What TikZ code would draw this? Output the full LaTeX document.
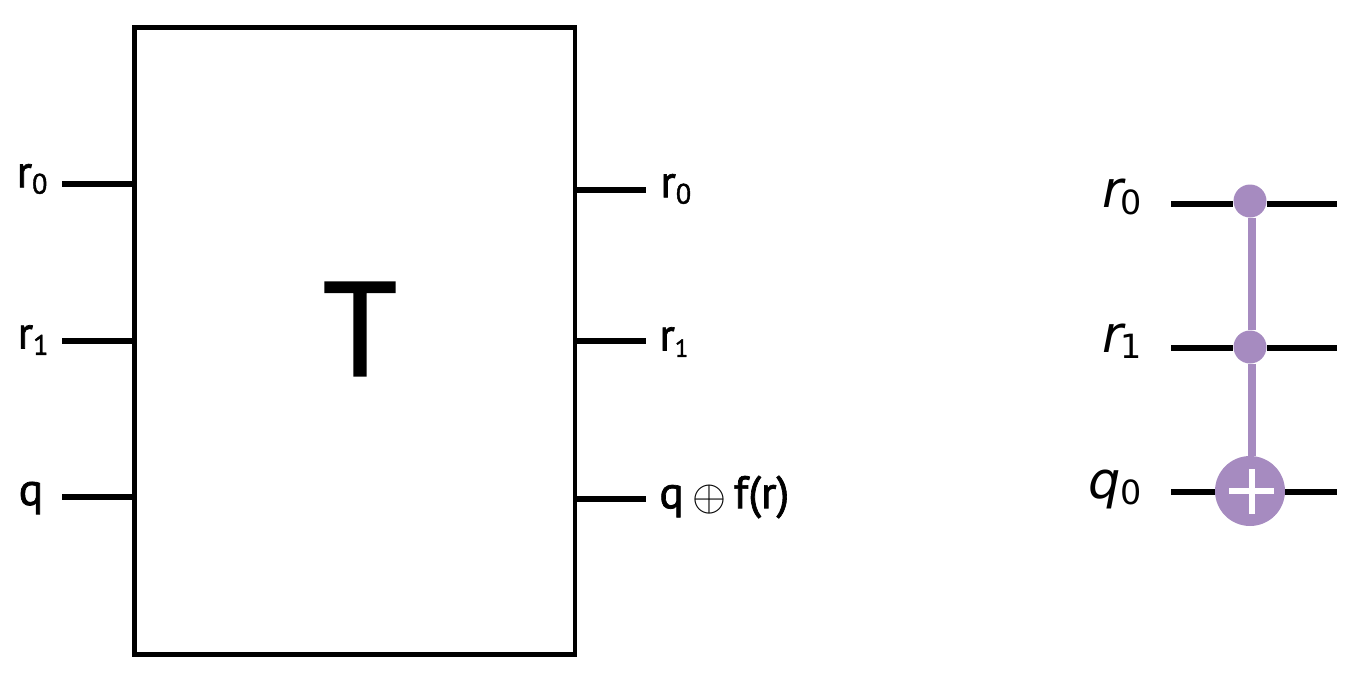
\documentclass[tikz,border=0pt]{standalone}
\usepackage{fontspec}
\setmainfont{PT Sans}
\newfontfamily\heavyfont[RawFeature={embolden=1.5}]{PT Sans}
\newfontfamily\circfont{DejaVu Sans}
\newcommand{\lowsub}[2][16]{\raisebox{-3.6pt}{\fontsize{#1}{20}\selectfont #2}}
\definecolor{ctrlpurple}{HTML}{A68BC0}
\tikzset{
  wire/.style={line width=3.1pt, black},
  qwire/.style={line width=3.3pt, black},
  boxlabel/.style={inner sep=0pt, font=\fontsize{26}{30}\selectfont\heavyfont},
  circlabel/.style={inner sep=0pt, anchor=east, font=\fontsize{29}{34}\selectfont\circfont},
  ctrldot/.style={circle, fill=ctrlpurple, inner sep=0pt, minimum size=0.66cm},
  targetdot/.style={circle, fill=ctrlpurple, inner sep=0pt, minimum size=1.4cm}
}
\begin{document}
\begin{tikzpicture}[x=0.02cm, y=-0.02cm]
\useasboundingbox (0,0) rectangle (1360,680);
% black box
\node (oracle) at (354.5,341) [draw, line width=2.8pt, inner sep=0pt, minimum width=8.82cm, minimum height=12.56cm] {};
\node (oracletext) at (360,329) [inner sep=0pt, font=\fontsize{76}{80}\selectfont\heavyfont] {T};
% left side
\coordinate (inA) at (62,184);
\coordinate (inB) at (62,341);
\coordinate (inC) at (62,497);
\draw[wire] (inA) -- (inA -| oracle.west);
\draw[wire] (inB) -- (inB -| oracle.west);
\draw[wire] (inC) -- (inC -| oracle.west);
\node (labelinA) at (32,179) [boxlabel] {r\lowsub{0}};
\node (labelinB) at (33,340) [boxlabel] {r\lowsub{1}};
\node (labelinC) at (31,498) [boxlabel] {q};
% right side
\coordinate (outA) at (646,190);
\coordinate (outB) at (646,341);
\coordinate (outC) at (646,499);
\draw[wire] (outA -| oracle.east) -- (outA);
\draw[wire] (outB -| oracle.east) -- (outB);
\draw[wire] (outC -| oracle.east) -- (outC);
\node (labeloutA) at (660,189) [boxlabel, anchor=west] {r\lowsub{0}};
\node (labeloutB) at (659,342) [boxlabel, anchor=west] {r\lowsub[14]{1}};
\node (labeloutC) at (659,497) [boxlabel, anchor=west] {q\hspace{5pt}\raisebox{-1pt}{\fontsize{34}{36}\selectfont$\oplus$}\hspace{4pt}f(r)};
% circuit
\node (ctrlA) at (1250,201) [ctrldot] {};
\node (ctrlB) at (1250,347) [ctrldot] {};
\node (target) at (1250,491) [targetdot] {};
\coordinate (wireAin) at (1171,204);
\coordinate (wireBin) at (1171,348);
\coordinate (wireCin) at (1171,492);
\coordinate (wireAout) at (1337,204);
\coordinate (wireBout) at (1337,348);
\coordinate (wireCout) at (1337,492);
\draw[qwire] (wireAin) -- (wireAin -| ctrlA.west);
\draw[qwire] (wireAout -| ctrlA.east) -- (wireAout);
\draw[qwire] (wireBin) -- (wireBin -| ctrlB.west);
\draw[qwire] (wireBout -| ctrlB.east) -- (wireBout);
\draw[qwire] (wireCin) -- (wireCin -| target.west);
\draw[qwire] (wireCout -| target.east) -- (wireCout);
\draw[ctrlpurple, line width=4.2pt] ([xshift=0.04cm]ctrlA.south) -- ([xshift=0.04cm]ctrlB.north);
\draw[ctrlpurple, line width=4.2pt] ([xshift=0.04cm]ctrlB.south) -- ([xshift=0.04cm]target.north);
% plus sign
\draw[white, line width=2.9pt] ([xshift=-0.42cm]target.center) -- ([xshift=0.48cm]target.center);
\draw[white, line width=3.6pt] ([xshift=0.04cm,yshift=0.44cm]target.center) -- ([xshift=0.04cm,yshift=-0.46cm]target.center);
\node (labelA) at (1142,197) [circlabel] {\textit{r}\hspace{-3pt}\lowsub[19]{0}};
\node (labelB) at (1142,341) [circlabel] {\textit{r}\hspace{-3pt}\lowsub[19]{1}};
\node (labelC) at (1142,489) [circlabel] {\textit{q}\lowsub[19]{0}};
\end{tikzpicture}
\end{document}
